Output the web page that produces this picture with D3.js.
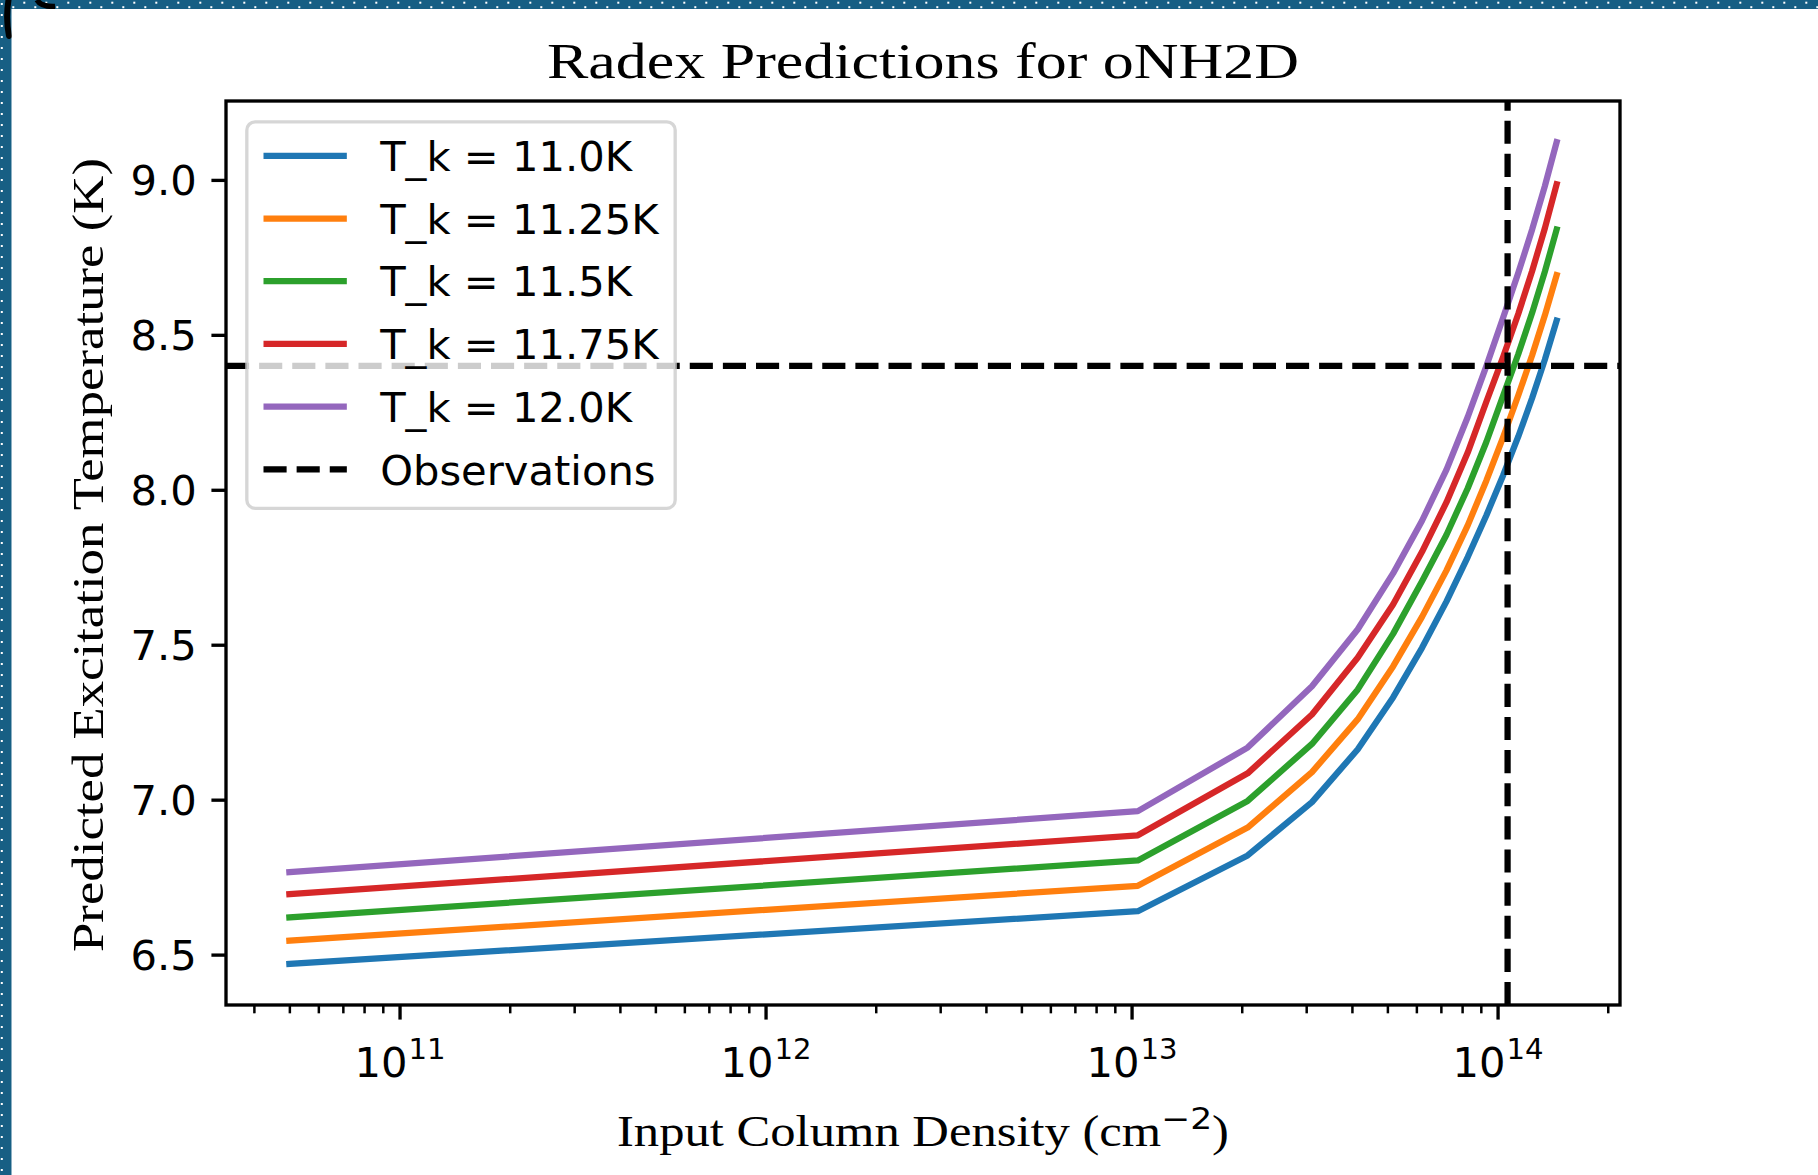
<!DOCTYPE html>
<html>
<head>
<meta charset="utf-8">
<script src="https://cdn.jsdelivr.net/npm/d3@7"></script>
<style>
  body { margin: 0; background: #fff; }
  svg { display: block; }
</style>
</head>
<body>
<svg id="chart" width="1818" height="1175"></svg>
<script>
// Radex predictions: excitation temperature vs input column density

// input column densities (cm^-2)
const columnDensity = [5.0e10, 1.0404e13, 2.0757e13, 3.1111e13, 4.1464e13, 5.1818e13, 6.2171e13,
    7.2525e13, 8.2879e13, 9.3232e13, 1.03586e14, 1.13939e14, 1.24293e14, 1.34646e14, 1.45e14];

// predicted excitation temperature (K), one list per kinetic temperature
const tex_11_00 = [6.470, 6.640, 6.820, 6.992, 7.162, 7.330, 7.490, 7.640, 7.783, 7.918, 8.047, 8.172, 8.296, 8.420, 8.546];
const tex_11_25 = [6.545, 6.722, 6.910, 7.089, 7.259, 7.430, 7.590, 7.740, 7.885, 8.030, 8.170, 8.305, 8.434, 8.563, 8.693];
const tex_11_50 = [6.620, 6.804, 6.996, 7.180, 7.355, 7.535, 7.705, 7.855, 8.005, 8.155, 8.304, 8.438, 8.571, 8.704, 8.840];
const tex_11_75 = [6.695, 6.885, 7.085, 7.275, 7.458, 7.630, 7.800, 7.960, 8.120, 8.285, 8.429, 8.568, 8.706, 8.844, 8.986];
const tex_12_00 = [6.766, 6.963, 7.168, 7.366, 7.549, 7.730, 7.900, 8.065, 8.235, 8.400, 8.556, 8.700, 8.840, 8.980, 9.122];

const seriesValues = [tex_11_00, tex_11_25, tex_11_50, tex_11_75, tex_12_00];
const seriesLabels = ["T_k = 11.0K", "T_k = 11.25K", "T_k = 11.5K", "T_k = 11.75K", "T_k = 12.0K"];
const seriesColors = ["#1f77b4", "#ff7f0e", "#2ca02c", "#d62728", "#9467bd"];

// observed values
const obsDensity = 1.065e14;
const obsTex = 8.40;
const obsLabel = "Observations";

// tick labels
const tempTicks = [6.5, 7.0, 7.5, 8.0, 8.5, 9.0];
const densityTicks = [1e11, 1e12, 1e13, 1e14];

const pt = 300 / 72;          // figure was saved at 300 dpi
const F = 10 * pt;            // base font size
const plotL = 226, plotR = 1620, plotT = 101, plotB = 1005;

const svg = d3.select("#chart");

// ---- page frame (dotted blue border, top and left) ----
const defs = svg.append("defs");
const band = "#175f84";
const pTop = defs.append("pattern").attr("id", "dotsTop")
    .attr("patternUnits", "userSpaceOnUse").attr("width", 22).attr("height", 9);
pTop.append("rect").attr("width", 22).attr("height", 9).attr("fill", band);
pTop.append("rect").attr("x", 1.3).attr("y", 1.7).attr("width", 2).attr("height", 2).attr("fill", "#fff");
pTop.append("rect").attr("x", 12.3).attr("y", 6.2).attr("width", 2).attr("height", 2).attr("fill", "#fff");
const pLeft = defs.append("pattern").attr("id", "dotsLeft")
    .attr("patternUnits", "userSpaceOnUse").attr("width", 12).attr("height", 11);
pLeft.append("rect").attr("width", 12).attr("height", 11).attr("fill", band);
pLeft.append("rect").attr("x", 0.8).attr("y", 3).attr("width", 2).attr("height", 2).attr("fill", "#fff");

svg.append("rect").attr("width", 1818).attr("height", 9).attr("fill", "url(#dotsTop)");
svg.append("rect").attr("width", 11.7).attr("height", 1175).attr("fill", "url(#dotsLeft)");
// bits of a cropped glyph in the corner
svg.append("path").attr("d", "M8.5,0 C6.5,12 7,26 9,36")
    .attr("fill", "none").attr("stroke", "#000").attr("stroke-width", 6).attr("stroke-linecap", "round");
svg.append("path").attr("d", "M37,0 Q41,7 55,6.5")
    .attr("fill", "none").attr("stroke", "#000").attr("stroke-width", 5.5);
svg.append("rect").attr("x", 11.7).attr("y", 9).attr("width", 1818).attr("height", 1175).attr("fill", "#fff");

// ---- scales (matplotlib style 5% margins) ----
const lx = d3.extent(columnDensity).map(Math.log10);
const xPad = (lx[1] - lx[0]) * 0.05;
const x = d3.scaleLog()
    .domain([10 ** (lx[0] - xPad), 10 ** (lx[1] + xPad)])
    .range([plotL, plotR]);

const ty = d3.extent(seriesValues.flat().concat([obsTex]));
const yPad = (ty[1] - ty[0]) * 0.05;
const y = d3.scaleLinear()
    .domain([ty[0] - yPad, ty[1] + yPad])
    .range([plotB, plotT]);

defs.append("clipPath").attr("id", "plotClip")
  .append("rect").attr("x", plotL).attr("y", plotT)
    .attr("width", plotR - plotL).attr("height", plotB - plotT);

// ---- curves ----
const line = d3.line()
    .x(d => x(d[0]))
    .y(d => y(d[1]));

const plot = svg.append("g").attr("clip-path", "url(#plotClip)");

plot.selectAll("path.series")
    .data(seriesValues)
    .enter().append("path")
    .attr("class", "series")
    .attr("fill", "none")
    .attr("stroke", (d, i) => seriesColors[i])
    .attr("stroke-width", 1.5 * pt)
    .attr("stroke-linejoin", "round")
    .attr("stroke-linecap", "square")
    .attr("d", d => line(d3.zip(columnDensity, d)));

// observation lines
const dash = `${3.7 * 1.5 * pt},${1.6 * 1.5 * pt}`;
plot.append("line")
    .attr("x1", plotL).attr("x2", plotR)
    .attr("y1", y(obsTex)).attr("y2", y(obsTex))
    .attr("stroke", "#000").attr("stroke-width", 1.5 * pt).attr("stroke-dasharray", dash);
plot.append("line")
    .attr("x1", x(obsDensity)).attr("x2", x(obsDensity))
    .attr("y1", plotB).attr("y2", plotT)
    .attr("stroke", "#000").attr("stroke-width", 1.5 * pt).attr("stroke-dasharray", dash);

// ---- axes ----
const yAxis = d3.axisLeft(y)
    .tickValues(tempTicks)
    .tickFormat(d3.format(".1f"))
    .tickSize(3.5 * pt)
    .tickPadding(3.5 * pt);

svg.append("g")
    .attr("transform", `translate(${plotL},0)`)
    .call(yAxis)
    .attr("font-family", "DejaVu Sans")
    .attr("font-size", F)
    .call(g => g.select(".domain").remove())
    .call(g => g.selectAll(".tick line").attr("stroke", "#000").attr("stroke-width", 0.8 * pt))
    .call(g => g.selectAll(".tick text").attr("fill", "#000").attr("dy", "0.36em"));

// minor log ticks
const minorTicks = x.ticks().filter(d => !densityTicks.includes(d) && Math.abs(Math.log10(d) % 1) > 1e-6);
svg.append("g")
    .attr("transform", `translate(0,${plotB})`)
    .call(d3.axisBottom(x).tickValues(minorTicks).tickSize(2 * pt).tickFormat(""))
    .call(g => g.select(".domain").remove())
    .call(g => g.selectAll(".tick line").attr("stroke", "#000").attr("stroke-width", 0.6 * pt));

// major log ticks with 10^n labels
const xAxisG = svg.append("g")
    .attr("transform", `translate(0,${plotB})`)
    .call(d3.axisBottom(x).tickValues(densityTicks).tickSize(3.5 * pt).tickFormat(""))
    .call(g => g.select(".domain").remove())
    .call(g => g.selectAll(".tick line").attr("stroke", "#000").attr("stroke-width", 0.8 * pt));

xAxisG.selectAll(".tick text").remove();
const xLab = xAxisG.selectAll(".tick").append("text")
    .attr("y", 72.4)
    .attr("dy", 0)
    .attr("fill", "#000")
    .attr("font-family", "DejaVu Sans")
    .attr("font-size", F)
    .attr("text-anchor", "middle");
xLab.append("tspan").text("10");
xLab.append("tspan")
    .attr("font-size", F * 0.7)
    .attr("dy", -18)
    .attr("dx", 1)
    .text(d => Math.round(Math.log10(d)));

// spines
svg.append("rect")
    .attr("x", plotL).attr("y", plotT)
    .attr("width", plotR - plotL).attr("height", plotB - plotT)
    .attr("fill", "none").attr("stroke", "#000").attr("stroke-width", 0.8 * pt);

// ---- titles ----
svg.append("text")
    .attr("x", (plotL + plotR) / 2).attr("y", plotT - 23.5)
    .attr("text-anchor", "middle")
    .attr("font-family", "Liberation Serif")
    .attr("font-size", 50)
    .attr("textLength", 752).attr("lengthAdjust", "spacingAndGlyphs")
    .text("Radex Predictions for oNH2D");

const xTitle = svg.append("text")
    .attr("x", (plotL + plotR) / 2).attr("y", plotB + 140.5)
    .attr("text-anchor", "middle")
    .attr("font-family", "Liberation Serif")
    .attr("font-size", 44)
    .attr("textLength", 612).attr("lengthAdjust", "spacingAndGlyphs");
xTitle.append("tspan").text("Input Column Density (cm");
xTitle.append("tspan").attr("font-family", "DejaVu Sans").attr("font-size", 30).attr("dy", -17).text("\u22122");
xTitle.append("tspan").attr("dy", 17).text(")");

svg.append("text")
    .attr("transform", `translate(${plotL - 123.3},${(plotT + plotB) / 2 + 2}) rotate(-90)`)
    .attr("text-anchor", "middle")
    .attr("font-family", "Liberation Serif")
    .attr("font-size", 44)
    .attr("textLength", 794).attr("lengthAdjust", "spacingAndGlyphs")
    .text("Predicted Excitation Temperature (K)");

// ---- legend ----
const legendItems = seriesLabels.map((label, i) => ({ label, color: seriesColors[i], dashed: false }))
    .concat([{ label: obsLabel, color: "#000", dashed: true }]);

const legend = svg.append("g")
    .attr("transform", `translate(${plotL + 0.5 * F},${plotT + 0.5 * F})`);
const legendBox = legend.append("rect")
    .attr("rx", 0.2 * F).attr("ry", 0.2 * F)
    .attr("fill", "#fff").attr("fill-opacity", 0.8)
    .attr("stroke", "#cccccc").attr("stroke-opacity", 0.8)
    .attr("stroke-width", 0.8 * pt);

const rowPitch = 62.7, rowTop = 34;
const rows = legend.selectAll("g.item")
    .data(legendItems)
    .enter().append("g")
    .attr("class", "item")
    .attr("transform", (d, i) => `translate(0,${rowTop + i * rowPitch})`);

rows.append("line")
    .attr("x1", 0.4 * F).attr("x2", 0.4 * F + 2 * F)
    .attr("stroke", d => d.color)
    .attr("stroke-width", 1.5 * pt)
    .attr("stroke-dasharray", d => d.dashed ? dash : null);

rows.append("text")
    .attr("x", 0.4 * F + 2 * F + 0.8 * F)
    .attr("y", 0.729 * F / 2)
    .attr("font-family", "DejaVu Sans")
    .attr("font-size", F)
    .attr("fill", "#000")
    .text(d => d.label);

let maxW = 0;
rows.selectAll("text").each(function() { maxW = Math.max(maxW, this.getComputedTextLength()); });
legendBox
    .attr("width", 0.4 * F + 2 * F + 0.8 * F + maxW + 0.4 * F)
    .attr("height", rowTop + (legendItems.length - 1) * rowPitch + 39);
</script>
</body>
</html>
